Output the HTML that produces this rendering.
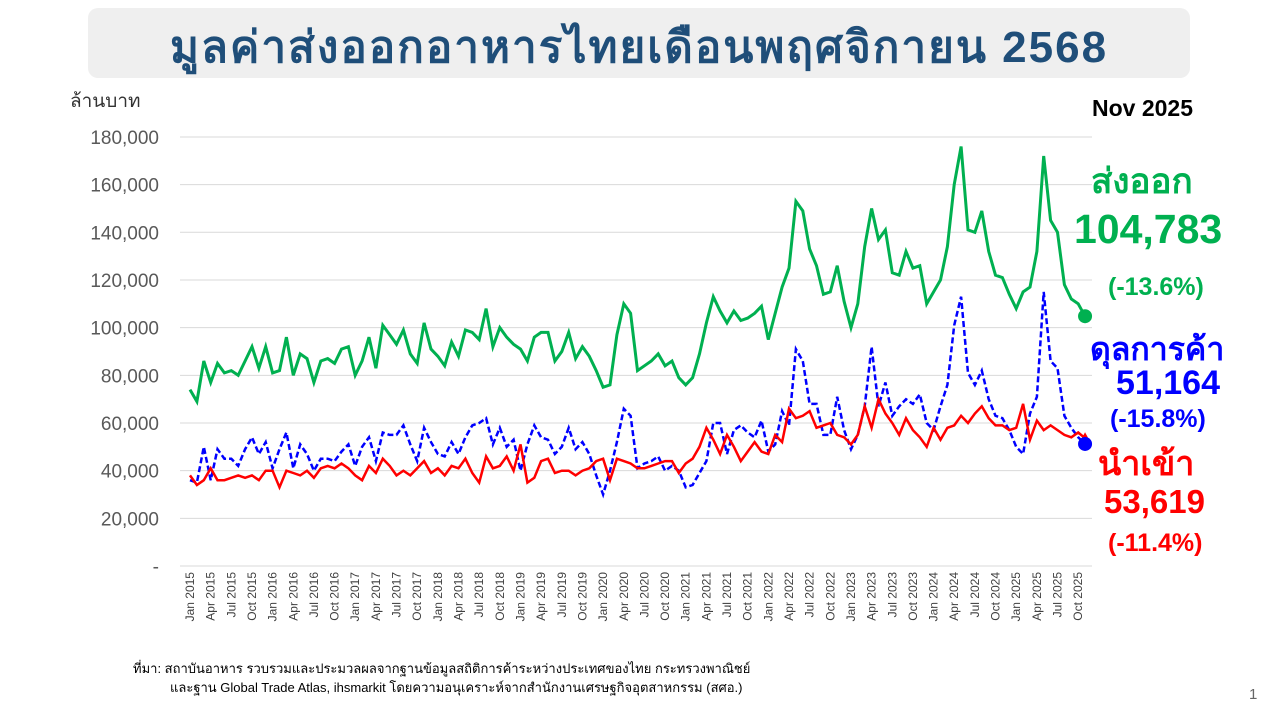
<!DOCTYPE html>
<html><head><meta charset="utf-8"><style>
body{margin:0;width:1280px;height:720px;background:#fff;overflow:hidden;font-family:"Liberation Sans","Noto Sans CJK SC",sans-serif;position:relative}
.t{position:absolute;white-space:nowrap}
</style></head><body>
<div style="position:absolute;left:88px;top:8px;width:1102px;height:70px;background:#efefef;border-radius:10px"></div>
<div class="t" style="left:88px;width:1102px;top:12px;text-align:center;font-size:44px;letter-spacing:2px;font-weight:bold;color:#1f4e79">มูลค่าส่งออกอาหารไทยเดือนพฤศจิกายน 2568</div>
<div class="t" style="left:70px;top:86px;font-size:19px;color:#333">ล้านบาท</div>
<svg id="c" width="1280" height="720" style="position:absolute;left:0;top:0"></svg>
<div class="t" style="left:1092px;top:95px;font-size:23px;font-weight:bold;color:#000">Nov 2025</div>
<div class="t" style="left:1091px;top:154px;font-size:35px;font-weight:bold;color:#00b050">ส่งออก</div>
<div class="t" style="left:1074px;top:206px;font-size:41px;font-weight:bold;color:#00b050">104,783</div>
<div class="t" style="left:1108px;top:273px;font-size:25px;font-weight:bold;color:#00b050">(-13.6%)</div>
<div class="t" style="left:1090px;top:324px;font-size:32px;font-weight:bold;color:#0000ff">ดุลการค้า</div>
<div class="t" style="left:1116px;top:364px;font-size:34px;font-weight:bold;color:#0000ff">51,164</div>
<div class="t" style="left:1110px;top:405px;font-size:25px;font-weight:bold;color:#0000ff">(-15.8%)</div>
<div class="t" style="left:1098px;top:436px;font-size:34px;font-weight:bold;color:#ff0000">นำเข้า</div>
<div class="t" style="left:1104px;top:483px;font-size:33px;font-weight:bold;color:#ff0000">53,619</div>
<div class="t" style="left:1108px;top:529px;font-size:25px;font-weight:bold;color:#ff0000">(-11.4%)</div>
<div class="t" style="left:133px;top:658px;font-size:13px;color:#000">ที่มา: สถาบันอาหาร รวบรวมและประมวลผลจากฐานข้อมูลสถิติการค้าระหว่างประเทศของไทย กระทรวงพาณิชย์</div>
<div class="t" style="left:170px;top:677px;font-size:13px;color:#000">และฐาน Global Trade Atlas, ihsmarkit โดยความอนุเคราะห์จากสำนักงานเศรษฐกิจอุตสาหกรรม (สศอ.)</div>
<div class="t" style="left:1249px;top:686px;font-size:15px;color:#666">1</div>
<script>
var E=[74,69,86,77,85,81,82,80,86,92,83,92,81,82,96,80,89,87,77,86,87,85,91,92,80,86,96,83,101,97,93,99,89,85,102,91,88,84,94,88,99,98,95,108,92,100,96,93,91,86,96,98,98,86,90,98,87,92,88,82,75,76,97,110,106,82,84,86,89,84,86,79,76,79,89,102,113,107,102,107,103,104,106,109,95,106,117,125,153,149,133,126,114,115,126,111,100,110,134,150,137,141,123,122,132,125,126,110,115,120,134,160,176,141,140,149,132,122,121,114,108,115,117,132,172,145,140,118,112,110,104.8];
var I=[38,34,36,41,36,36,37,38,37,38,36,40,40,33,40,39,38,40,37,41,42,41,43,41,38,36,42,39,45,42,38,40,38,41,44,39,41,38,42,41,45,39,35,46,41,42,46,40,51,35,37,44,45,39,40,40,38,40,41,44,45,36,45,44,43,41,41,42,43,44,44,39,43,45,50,58,53,47,55,50,44,48,52,48,47,55,52,66,62,63,65,58,59,60,55,54,51,55,67,58,70,64,60,55,62,57,54,50,58,53,58,59,63,60,64,67,62,59,59,57,58,68,53,61,57,59,57,55,54,56,53.6];
var B=E.map((e,i)=>e-I[i]);
function X(i){return 190+i*6.885}function Y(v){return 566-v*2.3835}
var s='';
for(var k=0;k<=9;k++){var y=566-k*47.67;s+='<line x1="180" x2="1092" y1="'+y+'" y2="'+y+'" stroke="#d9d9d9" stroke-width="1"/>';
s+='<text x="159" y="'+(y+7)+'" text-anchor="end" font-size="19" fill="#595959" font-family="Liberation Sans">'+(k==0?'-':(k*20)+',000')+'</text>';}
var m=['Jan','Apr','Jul','Oct'];
for(var i=0;i<131;i+=3){var yr=2015+Math.floor(i/12);var x=X(i)+4;
s+='<text transform="translate('+x+',572) rotate(-90)" text-anchor="end" font-size="12" fill="#404040" font-family="Liberation Sans">'+m[(i%12)/3]+' '+yr+'</text>';}
function p(a){return a.map((v,i)=>X(i).toFixed(1)+','+Y(v).toFixed(1)).join(' ')}
s+='<polyline points="'+p(E)+'" fill="none" stroke="#00b050" stroke-width="3"/>';
s+='<polyline points="'+p(B)+'" fill="none" stroke="#0000ff" stroke-width="2.5" stroke-dasharray="6,3"/>';
s+='<polyline points="'+p(I)+'" fill="none" stroke="#ff0000" stroke-width="2.5"/>';
var xe=X(130);
s+='<circle cx="'+xe+'" cy="'+Y(104.8)+'" r="7" fill="#00b050"/>';
s+='<polygon points="'+(xe-6)+','+(Y(53.6)+5)+' '+(xe+6)+','+(Y(53.6)+5)+' '+xe+','+(Y(53.6)-6)+'" fill="#ff0000"/>';
s+='<circle cx="'+xe+'" cy="'+Y(51.2)+'" r="7" fill="#0000ff"/>';
document.getElementById('c').innerHTML=s;
</script>
</body></html>
